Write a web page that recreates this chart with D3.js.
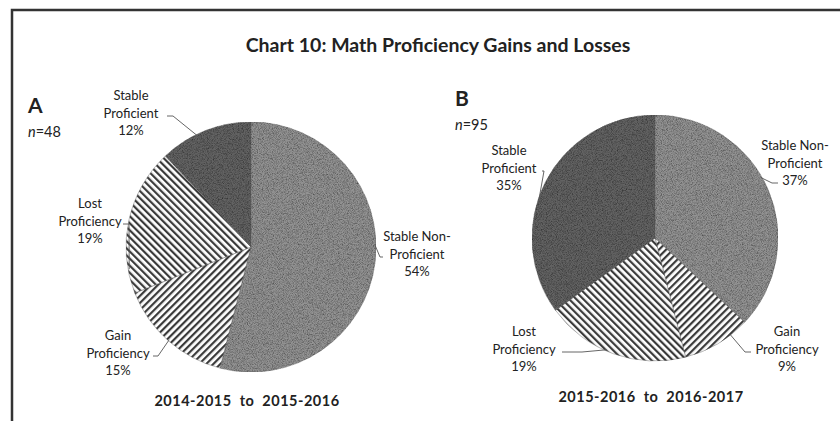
<!DOCTYPE html>
<html>
<head>
<meta charset="utf-8">
<script src="https://cdn.jsdelivr.net/npm/d3@7"></script>
<style>
  body { margin: 0; background: #fff; }
  text { font-family: Lato, "Open Sans", sans-serif; fill: #222; }
</style>
</head>
<body>
<div class="canvas"></div>
<script>
// data
const categories = ['Stable Non-Proficient', 'Gain Proficiency', 'Lost Proficiency', 'Stable Proficient'];
const valuesA = [54, 15, 19, 12];
const valuesB = [37, 9, 19, 35];
const nA = 48;
const nB = 95;
const periodA = '2014-2015  to  2015-2016';
const periodB = '2015-2016  to  2016-2017';

const svg = d3.select('.canvas')
    .append('svg')
    .attr('width', 840)
    .attr('height', 421);

// frame (top + left edge only visible)
svg.append('path')
    .attr('d', 'M12,421 L12,10 L840,10')
    .attr('fill', 'none')
    .attr('stroke', '#333')
    .attr('stroke-width', 2.5);

// patterns / textures
const defs = svg.append('defs');

const grain = defs.append('filter').attr('id', 'grain')
    .attr('x', 0).attr('y', 0).attr('width', 1).attr('height', 1);
grain.append('feTurbulence')
    .attr('type', 'fractalNoise').attr('baseFrequency', 1.2)
    .attr('numOctaves', 1).attr('seed', 3).attr('result', 'noise');
grain.append('feColorMatrix').attr('in', 'noise').attr('type', 'matrix')
    .attr('values', '0 0 0 0 0  0 0 0 0 0  0 0 0 0 0  0 0 0 1.6 -0.6')
    .attr('result', 'dots');
grain.append('feComposite').attr('in', 'dots').attr('in2', 'SourceGraphic')
    .attr('operator', 'in').attr('result', 'dotsIn');
grain.append('feMerge').selectAll('feMergeNode')
    .data(['SourceGraphic', 'dotsIn']).enter()
    .append('feMergeNode').attr('in', d => d);

function hatch(id, angle) {
    const p = defs.append('pattern')
        .attr('id', id)
        .attr('patternUnits', 'userSpaceOnUse')
        .attr('width', 5).attr('height', 5)
        .attr('patternTransform', `rotate(${angle})`);
    p.append('rect').attr('width', 5).attr('height', 5).attr('fill', '#fff');
    p.append('rect').attr('width', 2.2).attr('height', 5).attr('fill', '#3a3a3a');
}
hatch('hatchGain', 45);
hatch('hatchLost', -45);

const fills = d3.scaleOrdinal()
    .domain(categories)
    .range(['#939393', 'url(#hatchGain)', 'url(#hatchLost)', '#636363']);

// title
svg.append('text')
    .attr('x', 438).attr('y', 52)
    .attr('text-anchor', 'middle')
    .attr('font-size', 19.5).attr('font-weight', 'bold')
    .text('Chart 10: Math Proficiency Gains and Losses');

const pie = d3.pie().sort(null).value(d => d.value);

function drawPie(cfg) {
    const data = categories.map((c, i) => ({ name: c, value: cfg.values[i] }));
    const arcs = pie(data);
    const arc = d3.arc().innerRadius(0).outerRadius(cfg.r);

    const g = svg.append('g')
        .attr('transform', `translate(${cfg.cx},${cfg.cy})`);

    g.selectAll('path.slice')
        .data(arcs)
        .enter()
        .append('path')
        .attr('class', 'slice')
        .attr('d', arc)
        .attr('fill', d => fills(d.data.name))
        .attr('filter', d => d.data.name.startsWith('Stable') ? 'url(#grain)' : null)
        .attr('stroke', '#555')
        .attr('stroke-width', 0.4);

    // data labels
    arcs.forEach((d, i) => {
        const lab = cfg.labels[i];
        const pct = d3.format('.0%')(d.data.value / d3.sum(cfg.values));
        const lines = lab.lines.concat([pct]);
        const t = svg.append('text')
            .attr('text-anchor', 'middle')
            .attr('font-size', 13);
        lines.forEach((ln, k) => {
            t.append('tspan')
                .attr('x', lab.x)
                .attr('y', lab.y + k * 17.5)
                .text(ln);
        });
        // leader line to slice edge
        const a = lab.angle !== undefined ? lab.angle : (d.startAngle + d.endAngle) / 2;
        const ex = cfg.cx + Math.sin(a) * cfg.r * 0.99;
        const ey = cfg.cy - Math.cos(a) * cfg.r * 0.99;
        svg.append('polyline')
            .attr('points', `${lab.lx},${lab.ly} ${lab.lx + lab.dx},${lab.ly} ${ex},${ey}`)
            .attr('fill', 'none')
            .attr('stroke', '#555')
            .attr('stroke-width', 0.9);
    });

    svg.append('text')
        .attr('x', cfg.letterX).attr('y', cfg.letterY)
        .attr('font-size', 21).attr('font-weight', 'bold')
        .text(cfg.letter);
    const nt = svg.append('text')
        .attr('x', cfg.letterX).attr('y', cfg.letterY + 24)
        .attr('font-size', 14.5);
    nt.append('tspan').attr('font-style', 'italic').text('n');
    nt.append('tspan').text('=' + cfg.n);

    svg.append('text')
        .attr('x', cfg.cx - 4).attr('y', cfg.subY)
        .attr('text-anchor', 'middle')
        .attr('font-size', 14.5).attr('font-weight', 'bold')
        .attr('letter-spacing', 0.5)
        .style('white-space', 'pre')
        .text(cfg.period);
}

drawPie({
    cx: 251, cy: 247, r: 125,
    values: valuesA, n: nA, period: periodA,
    letter: 'A', letterX: 28, letterY: 113, subY: 406,
    labels: [
        { lines: ['Stable Non-', 'Proficient'], x: 417, y: 241, lx: 383, ly: 257, dx: -3, angle: 1.55 },
        { lines: ['Gain', 'Proficiency'], x: 118, y: 340, lx: 153, ly: 356, dx: 5 },
        { lines: ['Lost', 'Proficiency'], x: 90, y: 208, lx: 123, ly: 224, dx: 6, angle: -1.75 },
        { lines: ['Stable', 'Proficient'], x: 131, y: 100, lx: 167, ly: 116, dx: 6, angle: -0.45 }
    ]
});

drawPie({
    cx: 655, cy: 238, r: 123,
    values: valuesB, n: nB, period: periodB,
    letter: 'B', letterX: 455, letterY: 106, subY: 402,
    labels: [
        { lines: ['Stable Non-', 'Proficient'], x: 795, y: 150, lx: 778, ly: 183, dx: -6, angle: 1.05 },
        { lines: ['Gain', 'Proficiency'], x: 787, y: 336, lx: 751, ly: 352, dx: -6, angle: 2.48 },
        { lines: ['Lost', 'Proficiency'], x: 524, y: 336, lx: 562, ly: 352, dx: 20, angle: 3.55 },
        { lines: ['Stable', 'Proficient'], x: 509, y: 155, lx: 542, ly: 171, dx: 2, angle: -1.28 }
    ]
});
</script>
</body>
</html>
